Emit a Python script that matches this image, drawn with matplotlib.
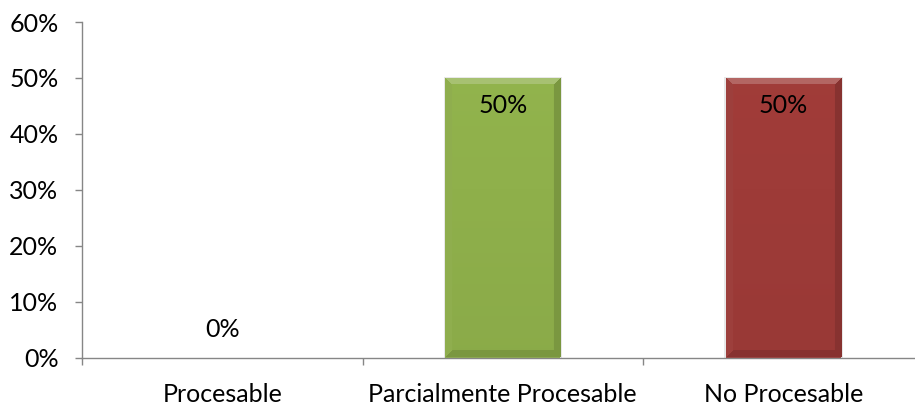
import numpy as np
import matplotlib
matplotlib.use("Agg")
import matplotlib.pyplot as plt
from matplotlib.colors import to_rgb

categories = ["Procesable", "Parcialmente Procesable", "No Procesable"]
values = [0, 50, 50]
labels = ["0%", "50%", "50%"]
colors = ["#4F81BD", "#8FB04B", "#9E3B38"]
yticks = [0, 10, 20, 30, 40, 50, 60]
ytick_labels = ["0%", "10%", "20%", "30%", "40%", "50%", "60%"]

plt.rcParams['font.family'] = ['Lato', 'DejaVu Sans']
W, H = 915, 408
FS = 18
fig = plt.figure(figsize=(W/100, H/100), dpi=100)
ax = fig.add_axes([82/W, 50.5/H, 841.5/W, 335.5/H])
ax.set_xlim(-0.5, 2.5)
ax.set_ylim(0, 60)

gray = "#868686"
for s in ["top", "right"]:
    ax.spines[s].set_visible(False)
for s in ["left", "bottom"]:
    ax.spines[s].set_color(gray)
    ax.spines[s].set_linewidth(1.0)

ax.set_yticks(yticks)
ax.set_yticklabels(ytick_labels, fontsize=FS, color="black")
ax.tick_params(axis='y', length=5, color=gray, width=1, pad=12)
ax.set_xticks(range(len(categories)))
ax.set_xticklabels(categories, fontsize=FS, color="black")
ax.tick_params(axis='x', which='major', length=0, pad=18)
ax.set_xticks([-0.5, 0.5, 1.5, 2.5], minor=True)
ax.tick_params(axis='x', which='minor', length=5, color=gray, width=1)

bars = ax.bar(range(len(categories)), values, width=0.41, color=colors, zorder=2,
              edgecolor='none')

fig.canvas.draw()
for bar, c in zip(bars, colors):
    if bar.get_height() <= 0:
        continue
    x0, y0 = bar.get_x(), bar.get_y()
    w, h = bar.get_width(), bar.get_height()
    p0 = ax.transData.transform((x0, y0))
    p1 = ax.transData.transform((x0 + w, y0 + h))
    pw = int(round(p1[0] - p0[0])); ph = int(round(p1[1] - p0[1]))
    base = np.array(to_rgb(c))
    img = np.tile(base, (ph, pw, 1)).astype(float)
    yy, xx = np.mgrid[0:ph, 0:pw]
    b = 7.0
    dl = xx + 0.5; dr = pw - xx - 0.5; dt = yy + 0.5; db = ph - yy - 0.5
    dmin = np.minimum(np.minimum(dl, dr), np.minimum(dt, db))
    bev = dmin < b
    top = bev & (dt <= np.minimum(np.minimum(dl, dr), db))
    right = bev & ~top & (dr <= np.minimum(dl, db))
    left = bev & ~top & ~right & (dl <= db)
    bottom = bev & ~top & ~right & ~left
    light = base + (1 - base) * 0.22
    img[top] = light
    img[left] = base * 0.98 + (1 - base) * 0.03
    img[right] = base * 0.86
    img[bottom] = base * 0.86
    shade = np.linspace(1.02, 0.97, ph)[:, None, None]
    inner = ~bev
    img = np.where(inner[..., None], np.clip(img * shade, 0, 1), img)
    im = ax.imshow(img, extent=(x0, x0 + w, y0, y0 + h), origin='upper',
                   aspect='auto', zorder=3, interpolation='bilinear')
    im.set_clip_path(bar)
    ax.add_patch(plt.Rectangle((x0 - 0.006, y0), w + 0.014, h + 0.2,
                               facecolor="#d9d9d9", edgecolor='none', zorder=1.5, alpha=0.6))

ax.set_xlim(-0.5, 2.5)
ax.set_ylim(0, 60)

for i, (v, lab) in enumerate(zip(values, labels)):
    off = -28 if v > 0 else 28
    ax.annotate(lab, xy=(i, v), xytext=(0, off), textcoords='offset pixels',
                ha='center', va='center', fontsize=FS, color='black', zorder=5)

fig.savefig("out.png", dpi=100)
